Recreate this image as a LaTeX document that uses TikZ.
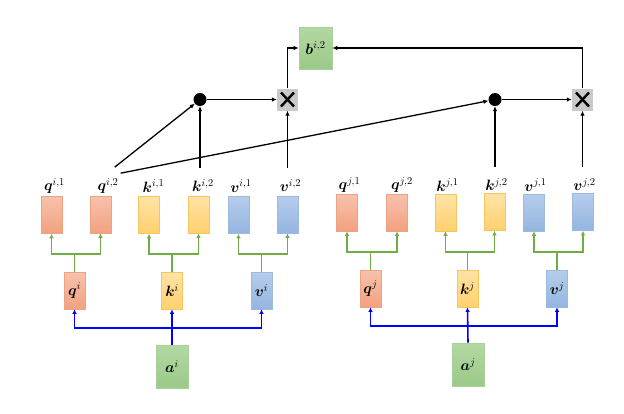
\RequirePackage{fix-cm}
\documentclass[tikz,border=0pt]{standalone}
\usepackage{amsmath,bm}
\usetikzlibrary{arrows.meta,calc}
\definecolor{qtop}{HTML}{F7C2AC}
\definecolor{qbot}{HTML}{F2A17F}
\definecolor{qbd}{HTML}{EBA386}
\definecolor{ktop}{HTML}{FFE3A6}
\definecolor{kbot}{HTML}{FFD06E}
\definecolor{kbd}{HTML}{F5C65F}
\definecolor{vtop}{HTML}{B6CDEC}
\definecolor{vbot}{HTML}{94B5E0}
\definecolor{vbd}{HTML}{9DB9DE}
\definecolor{gtop}{HTML}{B3D8A3}
\definecolor{gbot}{HTML}{9BC988}
\definecolor{gbd}{HTML}{A9D29A}
\definecolor{xgray}{HTML}{C9C9C9}
\definecolor{glink}{HTML}{70AD47}
\tikzset{
  every node/.style={font=\fontsize{15}{18}\selectfont},
  boxbase/.style={line width=0.6pt, inner sep=0pt, minimum width=21pt, minimum height=37pt},
  qbox/.style={boxbase, draw=qbd, top color=qtop, bottom color=qbot},
  kbox/.style={boxbase, draw=kbd, top color=ktop, bottom color=kbot},
  vbox/.style={boxbase, draw=vbd, top color=vtop, bottom color=vbot},
  abox/.style={line width=0.6pt, inner sep=0pt, minimum width=32pt, minimum height=43pt, draw=gbd, top color=gtop, bottom color=gbot},
  lbl/.style={inner sep=0pt},
  dotnode/.style={circle, fill=black, inner sep=0pt, minimum size=13pt},
  xbox/.style={fill=xgray, inner sep=0pt, minimum width=21pt, minimum height=22pt,
    path picture={\draw[line width=2.4pt] ([shift={(4pt,-4pt)}]path picture bounding box.north west) -- ([shift={(-4pt,4pt)}]path picture bounding box.south east);
                  \draw[line width=2.4pt] ([shift={(-4pt,-4pt)}]path picture bounding box.north east) -- ([shift={(4pt,4pt)}]path picture bounding box.south west);}},
  arr/.style={line width=1.3pt, -{Latex[length=5pt,width=4.5pt]}},
  garr/.style={glink, line width=1.9pt, -{Latex[length=4.5pt,width=4.5pt]}},
  gline/.style={glink, line width=1.9pt},
  barr/.style={blue, line width=1.6pt, -{Latex[length=4.5pt,width=4.5pt]}},
}
\begin{document}
\begin{tikzpicture}[x=1pt,y=-1pt]
\useasboundingbox (0,0) rectangle (624,413);
% left group
\node[qbox] (qi1) at (51.5,215) {};
\node[qbox] (qi2) at (100.5,214.5) {};
\node[kbox] (ki1) at (149,215) {};
\node[kbox] (ki2) at (198.5,214.5) {};
\node[vbox] (vi1) at (238.5,215) {};
\node[vbox] (vi2) at (287.5,214.5) {};
\node[lbl] (lqi1) at (54.5,186) {$\bm{q}^{i,1}$};
\node[lbl] (lqi2) at (108,186) {$\bm{q}^{i,2}$};
\node[lbl] (lki1) at (153.5,186) {$\bm{k}^{i,1}$};
\node[lbl] (lki2) at (203,185.5) {$\bm{k}^{i,2}$};
\node[lbl] (lvi1) at (241,186) {$\bm{v}^{i,1}$};
\node[lbl] (lvi2) at (290.5,185.5) {$\bm{v}^{i,2}$};
\node[qbox] (qi) at (74.5,290.5) {$\bm{q}^{i}$};
\node[kbox] (ki) at (172,290.5) {$\bm{k}^{i}$};
\node[vbox] (vi) at (261.5,290.5) {$\bm{v}^{i}$};
\node[abox] (ai) at (172,366.5) {$\bm{a}^{i}$};
% right group
\node[qbox] (qj1) at (347,212.5) {};
\node[qbox] (qj2) at (397,212.5) {};
\node[kbox] (kj1) at (445.5,212.5) {};
\node[kbox] (kj2) at (494.5,212) {};
\node[vbox] (vj1) at (534,212.5) {};
\node[vbox] (vj2) at (583,212) {};
\node[lbl] (lqj1) at (349.5,185) {$\bm{q}^{j,1}$};
\node[lbl] (lqj2) at (402,185) {$\bm{q}^{j,2}$};
\node[lbl] (lkj1) at (447.5,185) {$\bm{k}^{j,1}$};
\node[lbl] (lkj2) at (496.5,184.5) {$\bm{k}^{j,2}$};
\node[lbl] (lvj1) at (535.5,185) {$\bm{v}^{j,1}$};
\node[lbl] (lvj2) at (584.5,184.5) {$\bm{v}^{j,2}$};
\node[qbox] (qj) at (370.5,288.5) {$\bm{q}^{j}$};
\node[kbox] (kj) at (467.5,288.5) {$\bm{k}^{j}$};
\node[vbox] (vj) at (557,288.5) {$\bm{v}^{j}$};
\node[abox] (aj) at (468,364.5) {$\bm{a}^{j}$};
% top
\node[abox, minimum width=33pt, minimum height=42pt] (b) at (315.5,48) {$\bm{b}^{i,2}$};
\node[dotnode] (d1) at (200,99.5) {};
\node[xbox] (x1) at (287.5,99.5) {};
\node[dotnode] (d2) at (495,99.5) {};
\node[xbox] (x2) at (582.5,99.5) {};
% blue links
\draw[barr] (ai.north) -- (ki.south);
\draw[barr] (ai.north) ++(0,-17) -| (qi.south);
\draw[barr] (ai.north) ++(0,-17) -| (vi.south);
\draw[barr] (aj.north) -- (kj.south);
\draw[barr] (aj.north) ++(0,-17) -| (qj.south);
\draw[barr] (aj.north) ++(0,-17) -| (vj.south);
% green links
\foreach \p/\c/\d in {qi/qi1/qi2, ki/ki1/ki2, vi/vi1/vi2, qj/qj1/qj2, kj/kj1/kj2, vj/vj1/vj2}{
  \draw[gline] (\p.north) -- ++(0,-18);
  \draw[garr] (\p.north) ++(0,-18) -| (\c.south);
  \draw[garr] (\p.north) ++(0,-18) -| (\d.south);
}
% black links
\draw[arr] ($(lqi2.north east)+(-4,-11)$) -- (d1);
\draw[arr] ($(lqi2.north east)+(2,-5)$) -- (d2);
\draw[arr] ($(lki2.north -| d1)+(0,-11)$) -- (d1);
\draw[arr] ($(lvi2.north -| x1)+(0,-11)$) -- (x1);
\draw[arr] ($(lkj2.north -| d2)+(0,-11)$) -- (d2);
\draw[arr] ($(lvj2.north -| x2)+(0,-11)$) -- (x2);
\draw[arr] (d1) -- (x1);
\draw[arr] (d2) -- (x2);
\draw[arr] (x1.north) |- (b.west);
\draw[arr] (x2.north) |- (b.east);
\end{tikzpicture}
\end{document}
